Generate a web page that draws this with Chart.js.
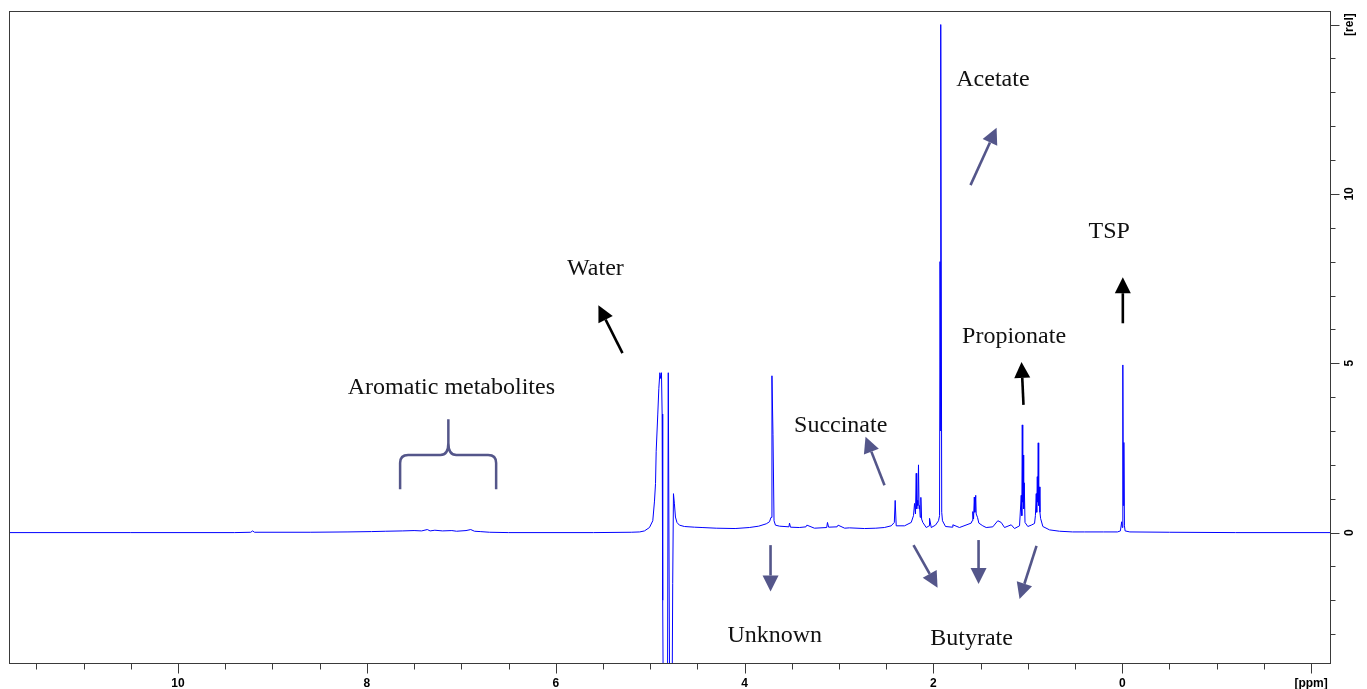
<!DOCTYPE html>
<html>
<head>
<meta charset="utf-8">
<title>1H NMR spectrum</title>
<script src="https://cdn.jsdelivr.net/npm/chart.js@4.4.1/dist/chart.umd.min.js"></script>
<style>
  html, body { margin: 0; padding: 0; background: #fff; }
  canvas { display: block; }
</style>
</head>
<body>
<canvas id="spectrum" width="1367" height="689"></canvas>
<script>
// Spectrum, split by region. ppm runs high -> low, rel is relative intensity.
const aromaticPpm = [11.79, 10.5, 9.4, 9.23, 9.21, 9.19, 8.6, 8.2, 7.95, 7.8, 7.62, 7.5, 7.42, 7.36, 7.33, 7.28, 7.2, 7.1, 7.05, 6.95, 6.9, 6.86, 6.8, 6.7, 6.5, 5.6, 5.2];
const aromaticRel = [0, 0, 0, 0.01, 0.05, 0.01, 0.01, 0.02, 0.03, 0.04, 0.05, 0.06, 0.05, 0.09, 0.05, 0.07, 0.05, 0.06, 0.04, 0.06, 0.09, 0.04, 0.03, 0.01, 0, 0, 0.01];

const waterPpm = [5.11, 5.06, 5.007, 4.972, 4.954, 4.943, 4.936, 4.919, 4.908, 4.897, 4.888, 4.880, 4.873, 4.867, 4.859, 4.817, 4.808, 4.801, 4.792, 4.769, 4.761, 4.753, 4.743, 4.732, 4.716, 4.690, 4.637, 4.531];
const waterRel = [0.02, 0.05, 0.15, 0.35, 0.93, 1.45, 2.4, 3.5, 4.26, 4.72, 4.55, 4.72, 3.5, -2.0, -6, -6, 4.72, 4.72, -6, -6, -1.5, 1.15, 0.85, 0.46, 0.3, 0.22, 0.18, 0.16];

const midPpm = [4.45, 4.3, 4.1, 3.95, 3.85, 3.77, 3.736, 3.720, 3.710, 3.699, 3.688, 3.673, 3.63, 3.53, 3.524, 3.514, 3.42, 3.35, 3.34, 3.26, 3.13, 3.122, 3.11, 3.02, 3.01, 2.94, 2.89, 2.73, 2.61, 2.52, 2.447];
const midRel = [0.15, 0.13, 0.12, 0.15, 0.19, 0.26, 0.32, 0.45, 4.63, 2.9, 0.35, 0.22, 0.19, 0.17, 0.28, 0.16, 0.15, 0.17, 0.22, 0.13, 0.15, 0.3, 0.16, 0.17, 0.22, 0.13, 0.14, 0.12, 0.13, 0.15, 0.2];

const aliphaticPpm = [2.414, 2.405, 2.394, 2.306, 2.235, 2.211, 2.200, 2.190, 2.182, 2.177, 2.172, 2.165, 2.158, 2.152, 2.147, 2.140, 2.133, 2.125, 2.112, 2.076, 2.045, 2.041, 2.023, 1.978, 1.946, 1.935, 1.930, 1.925, 1.920, 1.912, 1.904, 1.872, 1.80, 1.794, 1.724, 1.600, 1.590, 1.583, 1.575, 1.567, 1.561, 1.552, 1.547, 1.533, 1.519, 1.477, 1.441, 1.371, 1.318, 1.282, 1.247, 1.176, 1.141, 1.088, 1.070, 1.064, 1.059, 1.054, 1.049, 1.044, 1.038, 1.030, 1.000, 0.964, 0.929, 0.920, 0.911, 0.906, 0.900, 0.895, 0.890, 0.885, 0.879, 0.872, 0.865, 0.841, 0.770, 0.664, 0.526];
const aliphaticRel = [0.3, 0.95, 0.2, 0.2, 0.3, 0.5, 0.86, 0.55, 1.75, 0.7, 0.95, 0.8, 2.0, 0.7, 0.8, 0.45, 1.04, 0.4, 0.3, 0.15, 0.2, 0.42, 0.15, 0.22, 0.35, 0.5, 8.0, 3.0, 15.0, 0.6, 0.35, 0.18, 0.16, 0.23, 0.15, 0.28, 0.35, 0.62, 0.4, 1.05, 0.6, 1.1, 0.55, 0.45, 0.28, 0.2, 0.15, 0.17, 0.35, 0.3, 0.15, 0.23, 0.12, 0.2, 1.1, 0.5, 3.18, 0.9, 2.29, 0.7, 1.47, 0.3, 0.18, 0.22, 0.27, 0.5, 1.15, 0.6, 1.65, 0.9, 2.65, 0.8, 1.35, 0.6, 0.42, 0.18, 0.08, 0.04, 0.02];

const referencePpm = [0.40, 0.2, 0.05, 0.02, 0.006, 0.0, -0.006, -0.011, -0.017, -0.023, -0.03, -0.08, -0.5, -1.2, -2.2];
const referenceRel = [0.02, 0.02, 0.02, 0.05, 0.32, 0.15, 4.95, 0.8, 2.66, 0.2, 0.05, 0.02, 0.01, 0, 0];

// Axis ticks
const ppmTicks = [11.5, 11, 10.5, 10, 9.5, 9, 8.5, 8, 7.5, 7, 6.5, 6, 5.5, 5, 4.5, 4, 3.5, 3, 2.5, 2, 1.5, 1, 0.5, 0, -0.5, -1, -1.5, -2];
const ppmMajor = [10, 8, 6, 4, 2, 0, -2];
const ppmMajorLabels = ['10', '8', '6', '4', '2', '0', '[ppm]'];
const relTicks = [-3, -2, -1, 0, 1, 2, 3, 4, 5, 6, 7, 8, 9, 10, 11, 12, 13, 14, 15];
const relMajor = [0, 5, 10, 15];
const relMajorLabels = ['0', '5', '10', '[rel]'];

// Peak labels and pointers, placed in ppm / rel units
const SLATE = '#54568a';
const labels = [
  { text: 'Acetate', ppm: 1.370, rel: 13.18 },
  { text: 'TSP', ppm: 0.138, rel: 8.69 },
  { text: 'Water', ppm: 5.579, rel: 7.61 },
  { text: 'Propionate', ppm: 1.146, rel: 5.60 },
  { text: 'Aromatic metabolites', ppm: 7.105, rel: 4.085 },
  { text: 'Succinate', ppm: 2.982, rel: 2.96 },
  { text: 'Unknown', ppm: 3.680, rel: -3.22 },
  { text: 'Butyrate', ppm: 1.596, rel: -3.32 },
];
const arrows = [
  { from: [1.607, 10.26], to: [1.331, 11.95], color: SLATE },
  { from: [-0.006, 6.18], to: [-0.006, 7.54], color: '#000' },
  { from: [5.293, 5.30], to: [5.548, 6.71], color: '#000' },
  { from: [1.046, 3.77], to: [1.067, 5.04], color: '#000' },
  { from: [2.518, 1.40], to: [2.719, 2.83], color: SLATE },
  { from: [3.725, -0.37], to: [3.725, -1.74], color: SLATE },
  { from: [2.211, -0.37], to: [1.956, -1.63], color: SLATE },
  { from: [1.522, -0.22], to: [1.522, -1.52], color: SLATE },
  { from: [0.908, -0.39], to: [1.088, -1.96], color: SLATE },
];
const brace = { left: 7.648, right: 6.631, mid: 7.137, foot: 1.28, bar: 2.29, tip: 3.35 };

const regions = [
  [aromaticPpm, aromaticRel],
  [waterPpm, waterRel],
  [midPpm, midRel],
  [aliphaticPpm, aliphaticRel],
  [referencePpm, referenceRel],
];
const points = regions.flatMap(([ppm, rel]) => ppm.map((p, i) => ({ x: p, y: rel[i] })));

function drawArrow(ctx, x0, y0, x1, y1, color) {
  const ang = Math.atan2(y1 - y0, x1 - x0);
  const headLen = 16;
  const half = 8;
  const bx = x1 - headLen * Math.cos(ang);
  const by = y1 - headLen * Math.sin(ang);
  ctx.strokeStyle = color;
  ctx.fillStyle = color;
  ctx.lineWidth = 2.6;
  ctx.beginPath();
  ctx.moveTo(x0, y0);
  ctx.lineTo(bx, by);
  ctx.stroke();
  ctx.beginPath();
  ctx.moveTo(x1, y1);
  ctx.lineTo(bx + half * Math.sin(ang), by - half * Math.cos(ang));
  ctx.lineTo(bx - half * Math.sin(ang), by + half * Math.cos(ang));
  ctx.closePath();
  ctx.fill();
}

const spectrumDecor = {
  id: 'spectrumDecor',
  afterDraw(chart) {
    const { ctx, chartArea: a, scales: { x, y } } = chart;
    const L = Math.round(a.left) + 0.5;
    const R = Math.round(a.right) + 0.5;
    const T = Math.round(a.top) + 0.5;
    const B = Math.round(a.bottom) + 0.5;
    ctx.save();

    // frame
    ctx.strokeStyle = '#3a3a3a';
    ctx.lineWidth = 1;
    ctx.strokeRect(L, T, R - L, B - T);

    // ppm tick marks
    ctx.beginPath();
    ppmTicks.forEach((v) => {
      const px = Math.round(x.getPixelForValue(v)) + 0.5;
      ctx.moveTo(px, B);
      ctx.lineTo(px, B + (ppmMajor.includes(v) ? 10 : 6));
    });
    ctx.stroke();

    // rel tick marks and rotated labels on the right
    ctx.beginPath();
    relTicks.forEach((v) => {
      const py = Math.round(y.getPixelForValue(v)) + 0.5;
      ctx.moveTo(R, py);
      ctx.lineTo(R + (relMajor.includes(v) ? 9 : 5), py);
    });
    ctx.stroke();
    ctx.fillStyle = '#000';
    ctx.font = 'bold 12px "Liberation Sans", Arial, sans-serif';
    ctx.textAlign = 'center';
    ctx.textBaseline = 'middle';
    relMajor.forEach((v, i) => {
      ctx.save();
      ctx.translate(R + 19, y.getPixelForValue(v));
      ctx.rotate(-Math.PI / 2);
      ctx.fillText(relMajorLabels[i], 0, 0);
      ctx.restore();
    });

    // peak labels
    ctx.font = '24px "Liberation Serif", "Times New Roman", serif';
    ctx.fillStyle = '#111';
    ctx.textAlign = 'center';
    ctx.textBaseline = 'alphabetic';
    labels.forEach((l) => {
      ctx.fillText(l.text, x.getPixelForValue(l.ppm), y.getPixelForValue(l.rel));
    });

    arrows.forEach((ar) => {
      drawArrow(ctx,
        x.getPixelForValue(ar.from[0]), y.getPixelForValue(ar.from[1]),
        x.getPixelForValue(ar.to[0]), y.getPixelForValue(ar.to[1]), ar.color);
    });

    // curly brace over the aromatic region
    const bl = x.getPixelForValue(brace.left);
    const br = x.getPixelForValue(brace.right);
    const bm = x.getPixelForValue(brace.mid);
    const yf = y.getPixelForValue(brace.foot);
    const yb = y.getPixelForValue(brace.bar);
    const yt = y.getPixelForValue(brace.tip);
    const r = 8;
    ctx.strokeStyle = SLATE;
    ctx.lineWidth = 2.5;
    ctx.beginPath();
    ctx.moveTo(bl, yf);
    ctx.lineTo(bl, yb + r);
    ctx.quadraticCurveTo(bl, yb, bl + r, yb);
    ctx.lineTo(bm - r, yb);
    ctx.quadraticCurveTo(bm, yb, bm, yb - r * 1.5);
    ctx.lineTo(bm, yt);
    ctx.moveTo(bm, yb - r * 1.5);
    ctx.quadraticCurveTo(bm, yb, bm + r, yb);
    ctx.lineTo(br - r, yb);
    ctx.quadraticCurveTo(br, yb, br, yb + r);
    ctx.lineTo(br, yf);
    ctx.stroke();

    ctx.restore();
  },
};

new Chart(document.getElementById('spectrum'), {
  type: 'line',
  data: {
    datasets: [{
      data: points,
      borderColor: '#0000ff',
      borderWidth: 1,
      pointRadius: 0,
      tension: 0,
      fill: false,
    }],
  },
  options: {
    responsive: false,
    animation: false,
    devicePixelRatio: 1,
    layout: { padding: { left: 9, top: 11, right: 37, bottom: 0 } },
    plugins: { legend: { display: false }, tooltip: { enabled: false } },
    scales: {
      x: {
        type: 'linear',
        reverse: true,
        min: -2.2,
        max: 11.79,
        afterBuildTicks: (scale) => { scale.ticks = ppmTicks.map((v) => ({ value: v })); },
        afterFit: (scale) => { scale.height = 26; },
        grid: { display: false, drawTicks: false },
        border: { display: false },
        ticks: {
          autoSkip: false,
          maxRotation: 0,
          padding: 13,
          color: '#000',
          font: { family: '"Liberation Sans", Arial, sans-serif', size: 12, weight: 'bold' },
          callback: (v) => {
            const i = ppmMajor.indexOf(v);
            return i >= 0 ? ppmMajorLabels[i] : '';
          },
        },
      },
      y: {
        type: 'linear',
        display: false,
        min: -3.85,
        max: 15.4,
      },
    },
  },
  plugins: [spectrumDecor],
});
</script>
</body>
</html>
